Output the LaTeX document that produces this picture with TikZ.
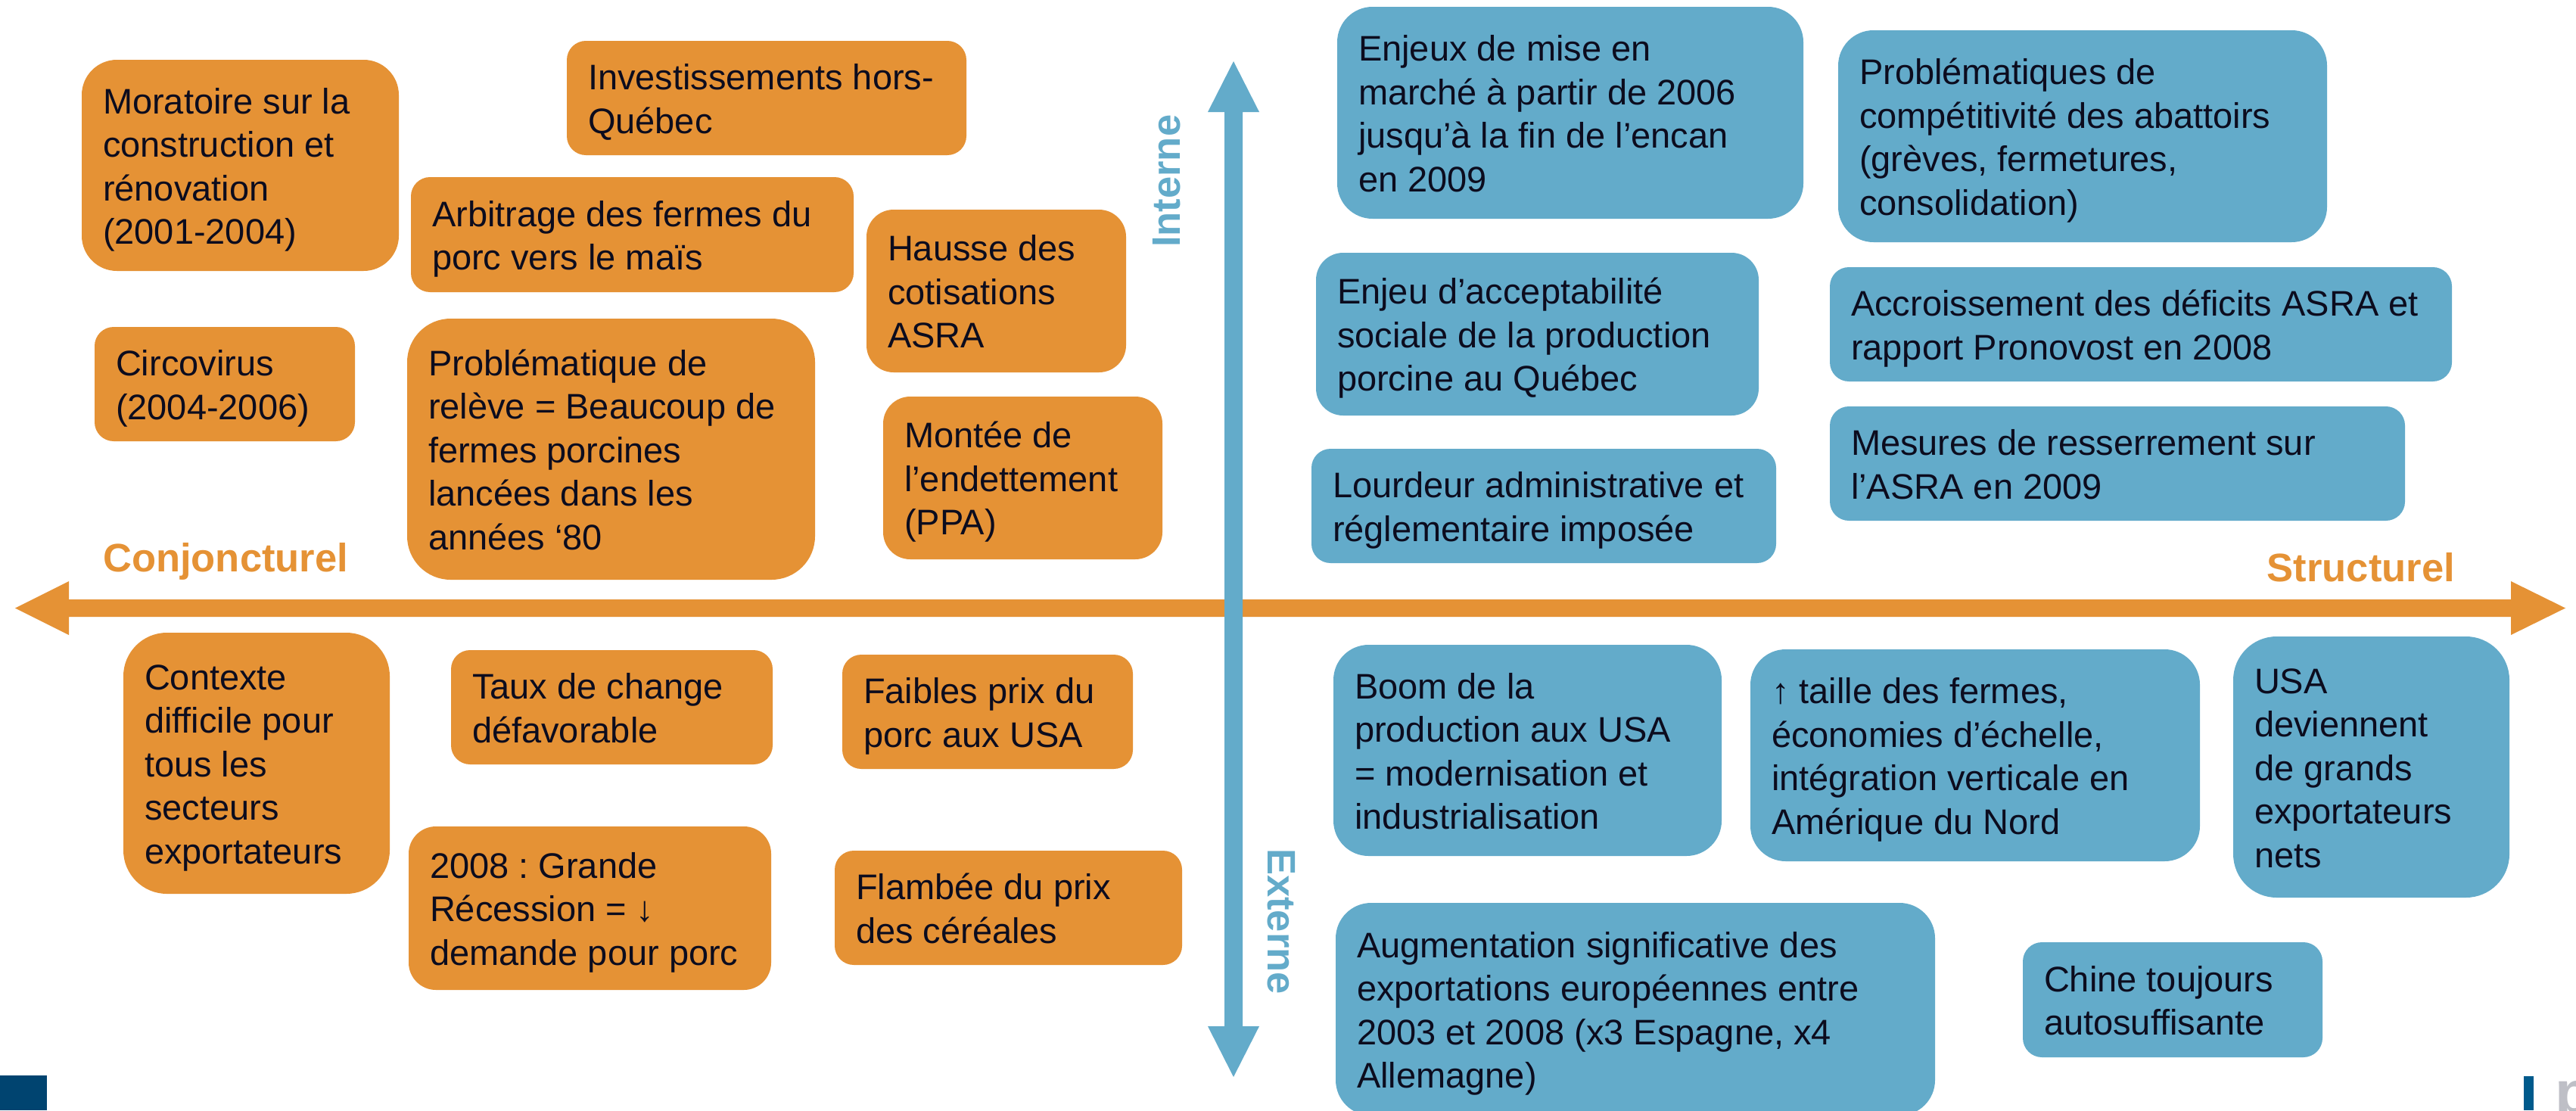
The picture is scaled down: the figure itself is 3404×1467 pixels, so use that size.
\documentclass[tikz,border=0pt]{standalone}
\usepackage{fontspec}
\setmainfont{Liberation Sans}
\usetikzlibrary{fit}
\definecolor{qorange}{RGB}{229,146,53}
\definecolor{qblue}{RGB}{99,171,202}
\definecolor{qtext}{RGB}{12,12,30}
\definecolor{qnavy}{RGB}{0,68,112}
\definecolor{qbar}{RGB}{0,90,140}
\definecolor{qgrey}{RGB}{190,191,198}
\frenchspacing
\newcommand\qlines[1]{\begin{tabular}{@{}l@{}}#1\end{tabular}}
% #1 name, #2 style, #3 x1, #4 y1, #5 x2, #6 y2, #7 text
\newcommand\qbox[7]{%
  \pgfmathsetmacro\qr{0.1667*min(#5-#3,#6-#4)}%
  \node[#2, fit={(#3,#4) (#5,#6)}, rounded corners=\qr pt] (#1) {};%
  \node[boxtext, anchor=west] (#1t) at ([xshift=28pt, yshift=-6.3pt]#1.west) {\qlines{#7}};%
}
\tikzset{
  obox/.style={fill=qorange, draw=none, inner sep=0pt},
  bbox/.style={fill=qblue, draw=none, inner sep=0pt},
  boxtext/.style={font=\fontsize{47}{57.5}\selectfont\frenchspacing, text=qtext, inner sep=0pt},
  axlab/.style={font=\fontsize{52.5}{60}\selectfont\bfseries, inner sep=0pt},
}
\begin{document}
\begin{tikzpicture}[x=1pt, y=-1pt]
\useasboundingbox (0,0) rectangle (3404,1467);
\clip (0,0) rectangle (3404,1467);
\fill[white] (0,0) rectangle (3404,1467);

% axes
\fill[qorange] (20,803.5) -- (91,768) -- (91,792) -- (3318,792) -- (3318,768) -- (3390,803.5)
  -- (3318,839) -- (3318,815) -- (91,815) -- (91,839) -- cycle;
\fill[qblue] (1630,81) -- (1664,148) -- (1642,148) -- (1642,1356) -- (1664,1356) -- (1630,1423)
  -- (1596,1356) -- (1618,1356) -- (1618,148) -- (1596,148) -- cycle;

\node[axlab, text=qorange, anchor=base west] (conj) at (136,755) {Conjoncturel};
\node[axlab, text=qorange, anchor=base east] (struc) at (3244,768) {Structurel};
\node[axlab, text=qblue, rotate=90, anchor=base west] (inter) at (1559,327) {Interne};
\node[axlab, text=qblue, rotate=-90, anchor=base west] (exter) at (1675,1121) {Externe};

% orange boxes
\qbox{o1}{obox}{108}{79}{527}{358}{Moratoire sur la\\construction et\\rénovation\\(2001-2004)}
\qbox{o2}{obox}{749}{54}{1277}{205}{Investissements hors-\\Québec}
\qbox{o3}{obox}{543}{234}{1128}{386}{Arbitrage des fermes du\\porc vers le maïs}
\qbox{o4}{obox}{1145}{277}{1488}{492}{Hausse des\\cotisations\\ASRA}
\qbox{o5}{obox}{125}{432}{469}{583}{Circovirus\\(2004-2006)}
\qbox{o6}{obox}{538}{421}{1077}{766}{Problématique de\\relève = Beaucoup de\\fermes porcines\\lancées dans les\\années ‘80}
\qbox{o7}{obox}{1167}{524}{1536}{739}{Montée de\\l’endettement\\(PPA)}
\qbox{o8}{obox}{163}{836}{515}{1181}{Contexte\\difficile pour\\tous les\\secteurs\\exportateurs}
\qbox{o9}{obox}{596}{859}{1021}{1010}{Taux de change\\défavorable}
\qbox{o10}{obox}{1113}{865}{1497}{1016}{Faibles prix du\\porc aux USA}
\qbox{o11}{obox}{540}{1092}{1019}{1308}{2008 : Grande\\Récession = ↓\\demande pour porc}
\qbox{o12}{obox}{1103}{1124}{1562}{1275}{Flambée du prix\\des céréales}

% blue boxes
\qbox{b1}{bbox}{1767}{9}{2383}{289}{Enjeux de mise en\\marché à partir de 2006\\jusqu’à la fin de l’encan\\en 2009}
\qbox{b2}{bbox}{2429}{40}{3075}{320}{Problématiques de\\compétitivité des abattoirs\\(grèves, fermetures,\\consolidation)}
\qbox{b3}{bbox}{1739}{334}{2324}{549}{Enjeu d’acceptabilité\\sociale de la production\\porcine au Québec}
\qbox{b4}{bbox}{2418}{353}{3240}{504}{Accroissement des déficits ASRA et\\rapport Pronovost en 2008}
\qbox{b5}{bbox}{2418}{537}{3178}{688}{Mesures de resserrement sur\\l’ASRA en 2009}
\qbox{b6}{bbox}{1733}{593}{2347}{744}{Lourdeur administrative et\\réglementaire imposée}
\qbox{b7}{bbox}{1762}{852}{2275}{1131}{Boom de la\\production aux USA\\= modernisation et\\industrialisation}
\qbox{b8}{bbox}{2313}{858}{2907}{1138}{↑ taille des fermes,\\économies d’échelle,\\intégration verticale en\\Amérique du Nord}
\qbox{b9}{bbox}{2951}{841}{3316}{1186}{USA\\deviennent\\de grands\\exportateurs\\nets}
\qbox{b10}{bbox}{1765}{1193}{2557}{1474}{Augmentation significative des\\exportations européennes entre\\2003 et 2008 (x3 Espagne, x4\\Allemagne)}
\qbox{b11}{bbox}{2673}{1245}{3069}{1397}{Chine toujours\\autosuffisante}

% footer marks
\fill[qnavy] (0,1421) rectangle (62,1467);
\fill[qbar] (3335,1422) rectangle (3348,1467);
\node[font=\fontsize{80}{90}\selectfont\bfseries, text=qgrey, anchor=base west, inner sep=0pt] (logo) at (3376,1471) {p};
\end{tikzpicture}
\end{document}
